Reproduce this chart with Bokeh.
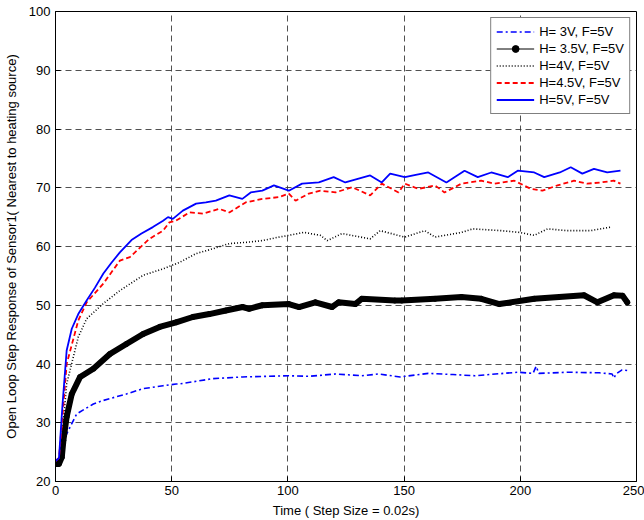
from bokeh.plotting import figure
from bokeh.models import Range1d, FixedTicker, Legend, LegendItem
from bokeh.embed import file_html
from bokeh.resources import INLINE

# Open-loop step response of sensor 1 for five heater voltages (fan at 5 V)
x_h3 = [0, 1.5, 3.4, 4.8, 6.3, 9.1, 16.3, 20.6, 30.5, 37.7, 46.3, 51.9, 53.4, 67.6,
        80.5, 100.4, 109, 120.5, 131.8, 139, 148.3, 160.4, 171, 180.4, 198.9,
        205.5, 206.8, 208, 220.2, 234, 239.5, 240.3, 241.2, 243.8, 246]
y_h3 = [23.2, 23.8, 26.4, 28.1, 29.3, 31.5, 33.2, 33.8, 34.9, 35.8, 36.3, 36.6, 36.6, 37.5,
        37.8, 38.0, 37.9, 38.3, 38.0, 38.3, 37.8, 38.4, 38.2, 38.0, 38.6,
        38.4, 39.6, 38.4, 38.6, 38.5, 38.3, 37.6, 38.3, 39.0, 38.9]

x_h35 = [0, 1.5, 2.7, 3.4, 4.8, 7.0, 10.6, 16.3, 23.4, 30.5, 37.7, 44.8, 51.9, 59.1,
         66.2, 73.3, 80.5, 83.3, 89, 100.4, 104.8, 111.8, 119, 121.8, 129, 131.8, 146,
         149, 163.3, 174.7, 183.2, 191, 206, 227.4, 233.2, 240.3, 244, 246]
y_h35 = [23.0, 23.0, 24.1, 27.0, 31.0, 34.9, 37.8, 39.2, 41.7, 43.4, 45.1, 46.3, 47.1, 48.0,
         48.5, 49.1, 49.7, 49.4, 50.0, 50.2, 49.7, 50.5, 49.7, 50.5, 50.2, 51.1, 50.8,
         50.8, 51.1, 51.4, 51.1, 50.2, 51.1, 51.7, 50.5, 51.7, 51.6, 50.5]

x_h4 = [0, 1.5, 3.4, 4.8, 9.8, 13.4, 20.6, 27.7, 37.7, 46.3, 53.4, 60.5, 67.6, 74.8,
        81.8, 89, 96.1, 100.4, 106.8, 114, 116.9, 123.3, 135.4, 139.7, 150.3, 158.9,
        163.3, 174.7, 179.6, 191.8, 199.6, 206, 211.7, 220.2, 230.3, 238.8]
y_h4 = [23.2, 23.5, 30.0, 36.6, 44.6, 47.7, 50.3, 52.5, 55.1, 56.2, 57.3, 58.8, 59.6, 60.5,
        60.7, 61.0, 61.6, 61.9, 62.4, 61.9, 61.0, 62.2, 61.3, 62.7, 61.6, 62.7,
        61.6, 62.4, 63.0, 62.7, 62.4, 61.9, 63.0, 62.7, 62.7, 63.3]

x_h45 = [0, 1.5, 3.4, 4.8, 9.8, 13.4, 20.6, 27.7, 32, 40.4, 46.3, 49, 51.9, 57.6, 63.4,
         70.5, 74.8, 81.8, 89, 96.1, 100.4, 103.3, 109, 114, 120.5, 127.6, 135.4, 140.4,
         147.6, 150.3, 156.1, 163.3, 167.4, 174.7, 183.2, 188.9, 197.4, 204.6, 209.5,
         216, 223.1, 228.8, 234.6, 240.2, 243.1]
y_h45 = [23.5, 24.0, 33.0, 40.0, 47.4, 50.5, 53.7, 57.6, 58.2, 61.3, 62.7, 64.1, 64.4, 65.8, 65.6,
         66.4, 65.8, 67.5, 68.1, 68.4, 69.0, 67.8, 69.0, 69.5, 69.2, 70.1, 68.7, 70.7,
         69.2, 70.7, 69.8, 70.4, 69.2, 70.7, 71.2, 70.7, 71.2, 69.8, 69.5,
         70.4, 71.2, 70.7, 70.9, 71.2, 70.7]

x_h5 = [0, 1.5, 3.0, 4.8, 7, 9.8, 13.4, 17, 20.6, 24, 27.7, 32.7, 37, 41.9, 46.3, 48.4,
        50.5, 54.8, 60.5, 64.7, 69, 74.8, 80.4, 84, 89, 94, 100.4, 106.1, 113.3, 119.7,
        124.7, 135.4, 140.4, 144, 150.3, 155, 160.4, 168.2, 176, 181.7, 187.5, 194.6,
        198.9, 206, 210.3, 217, 221.7, 226.7, 231.7, 237.4, 243.1]
y_h5 = [23.5, 24.0, 33.0, 42.3, 46.0, 48.5, 50.8, 53.0, 55.4, 57.2, 59.0, 61.1, 62.2, 63.3, 64.4, 65.0,
        64.7, 66.1, 67.3, 67.5, 67.8, 68.7, 68.1, 69.2, 69.5, 70.4, 69.5, 70.7, 70.9, 71.8,
        70.9, 72.1, 70.9, 72.4, 71.8, 72.2, 72.6, 70.9, 72.9, 71.8, 72.6, 71.8,
        72.9, 72.6, 71.8, 72.6, 73.5, 72.4, 73.2, 72.6, 72.9]

labels = ["H= 3V, F=5V", "H= 3.5V, F=5V", "H=4V, F=5V", "H=4.5V, F=5V", "H=5V, F=5V"]
x_ticks = [0, 50, 100, 150, 200, 250]
y_ticks = [20, 30, 40, 50, 60, 70, 80, 90, 100]

FONT = "Liberation Sans"

p = figure(width=644, height=520, output_backend="svg", toolbar_location=None,
           x_range=Range1d(0, 250), y_range=Range1d(20, 100),
           min_border_left=52, min_border_right=8, min_border_top=11, min_border_bottom=39)
p.outline_line_color = "black"
p.outline_line_width = 1
p.background_fill_color = "white"
p.border_fill_color = "white"

for ax in (p.xaxis[0], p.yaxis[0]):
    ax.major_tick_in = 5
    ax.major_tick_out = 0
    ax.minor_tick_line_color = None
    ax.major_label_text_font = FONT
    ax.major_label_text_font_size = "13px"
    ax.major_label_text_color = "black"
    ax.axis_label_text_font = FONT
    ax.axis_label_text_font_size = "13px"
    ax.axis_label_text_font_style = "normal"
    ax.axis_label_text_color = "black"
    ax.axis_line_color = "black"

p.xaxis[0].ticker = FixedTicker(ticks=x_ticks)
p.yaxis[0].ticker = FixedTicker(ticks=y_ticks)
p.xaxis[0].axis_label = "Time ( Step Size = 0.02s)"
p.yaxis[0].axis_label = "Open Loop Step Response of Sensor1( Nearest to heating source)"
p.xaxis[0].major_label_standoff = 4
p.xaxis[0].axis_label_standoff = 5
p.yaxis[0].major_label_standoff = 5
p.yaxis[0].axis_label_standoff = 7

for g in (p.xgrid[0], p.ygrid[0]):
    g.grid_line_color = "#333333"
    g.grid_line_dash = "6 4"
    g.grid_line_width = 1
    g.grid_line_alpha = 0.85
p.xgrid[0].ticker = FixedTicker(ticks=x_ticks)
p.ygrid[0].ticker = FixedTicker(ticks=y_ticks)

r3 = p.line(x_h3, y_h3, line_color="#0000ff", line_width=1.6, line_dash="6 3 2 3")
p.line(x_h35, y_h35, line_color="black", line_width=6, line_join="round", line_cap="round")
r35_line = p.line(x_h35, y_h35, line_color="black", line_width=1)
r35_dot = p.scatter(x_h35, y_h35, size=5, marker="circle", color="black")
r4 = p.line(x_h4, y_h4, line_color="black", line_width=1.6, line_dash="1 2")
r45 = p.line(x_h45, y_h45, line_color="#ff0000", line_width=1.8, line_dash="5 3")
r5 = p.line(x_h5, y_h5, line_color="#0000ff", line_width=1.8)

legend = Legend(items=[
    LegendItem(label=labels[0], renderers=[r3]),
    LegendItem(label=labels[1], renderers=[r35_line, r35_dot]),
    LegendItem(label=labels[2], renderers=[r4]),
    LegendItem(label=labels[3], renderers=[r45]),
    LegendItem(label=labels[4], renderers=[r5]),
], location="top_right")
legend.margin = 6
legend.padding = 5
legend.spacing = 0
legend.glyph_width = 38
legend.glyph_height = 17
legend.label_height = 17
legend.label_standoff = 5
legend.label_text_font = FONT
legend.label_text_font_size = "13px"
legend.label_text_color = "black"
legend.border_line_color = "black"
legend.border_line_width = 1
legend.background_fill_alpha = 1
p.add_layout(legend, "center")

open("out.html", "w").write(file_html(p, INLINE))
